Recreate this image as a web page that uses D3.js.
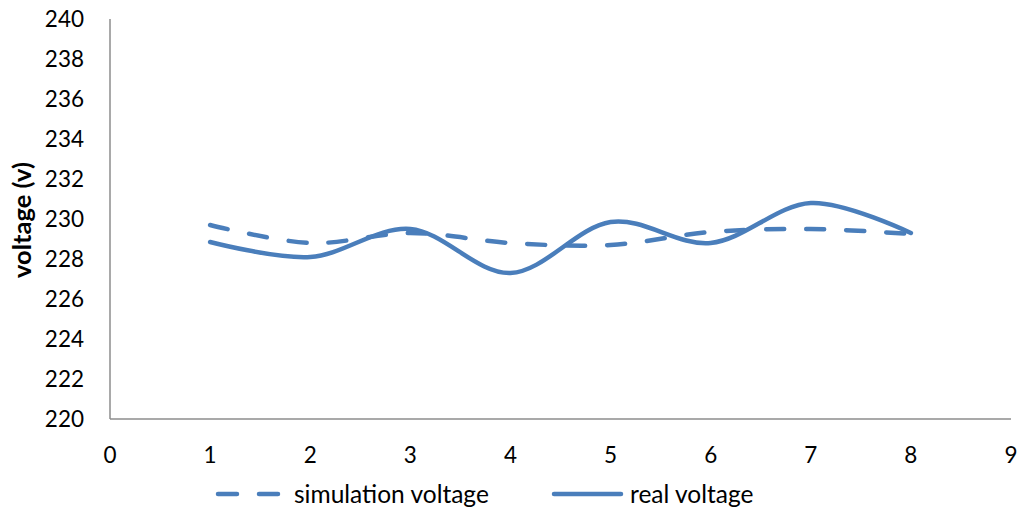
<!DOCTYPE html>
<html><head><meta charset="utf-8">
<script src="https://cdn.jsdelivr.net/npm/d3@7"></script>
<style>body{margin:0;background:#fff}svg{display:block}</style>
</head><body>
<svg id="c" width="1021" height="510"></svg>
<script>
const xValues = [1,2,3,4,5,6,7,8];
const simulation = [229.7,228.8,229.3,228.8,228.7,229.35,229.5,229.25];
const real = [228.85,228.1,229.5,227.3,229.85,228.8,230.8,229.3];
const yTicks = [220,222,224,226,228,230,232,234,236,238,240];
const xTicks = [0,1,2,3,4,5,6,7,8,9];
const seriesNames = ["simulation voltage","real voltage"];

const svg = d3.select("#c");
const font = "Lato, 'Open Sans', sans-serif";
const fs = 22.5;
const color = "#4a7ebb";
const x = d3.scaleLinear().domain([0,9]).range([110,1011]);
const y = d3.scaleLinear().domain([220,240]).range([419,19]);

// axes
svg.append("line").attr("x1",x(0)).attr("x2",x(0)).attr("y1",y(240)).attr("y2",y(220))
  .attr("stroke","#8c8c8c").attr("stroke-width",1.5);
svg.append("line").attr("x1",x(0)).attr("x2",x(9)).attr("y1",y(220)).attr("y2",y(220))
  .attr("stroke","#8c8c8c").attr("stroke-width",1.5);

svg.append("g").selectAll("text").data(yTicks).join("text")
  .attr("x",84).attr("y",d=>y(d)).attr("dy","0.36em").attr("text-anchor","end")
  .attr("font-family",font).attr("font-size",fs).attr("fill","#000").text(d=>d);
svg.append("g").selectAll("text").data(xTicks).join("text")
  .attr("x",d=>x(d)).attr("y",455).attr("dy","0.36em").attr("text-anchor","middle")
  .attr("font-family",font).attr("font-size",fs).attr("fill","#000").text(d=>d);

svg.append("text").attr("transform","translate(22,220) rotate(-90)")
  .attr("text-anchor","middle").attr("dy","0.36em")
  .attr("font-family",font).attr("font-size",25.5).attr("font-weight","bold").text("voltage (v)");

const line = d3.line().x(d=>x(d[0])).y(d=>y(d[1])).curve(d3.curveCardinal.tension(0));
svg.append("path").datum(xValues.map((v,i)=>[v,simulation[i]])).attr("d",line)
  .attr("fill","none").attr("stroke",color).attr("stroke-width",4.5)
  .attr("stroke-dasharray","18,22").attr("stroke-linecap","round");
svg.append("path").datum(xValues.map((v,i)=>[v,real[i]])).attr("d",line)
  .attr("fill","none").attr("stroke",color).attr("stroke-width",4.5).attr("stroke-linecap","round");

// legend
const ly = 494;
const lfs = 24.5;
svg.append("line").attr("x1",218).attr("x2",279).attr("y1",ly).attr("y2",ly)
  .attr("stroke",color).attr("stroke-width",4.5).attr("stroke-dasharray","19,22").attr("stroke-linecap","round");
svg.append("text").attr("x",294).attr("y",ly).attr("dy","0.36em")
  .attr("font-family",font).attr("font-size",lfs).text(seriesNames[0]);
svg.append("line").attr("x1",554).attr("x2",621).attr("y1",ly).attr("y2",ly)
  .attr("stroke",color).attr("stroke-width",4.5).attr("stroke-linecap","round");
svg.append("text").attr("x",630).attr("y",ly).attr("dy","0.36em")
  .attr("font-family",font).attr("font-size",lfs).text(seriesNames[1]);
</script>
</body></html>
